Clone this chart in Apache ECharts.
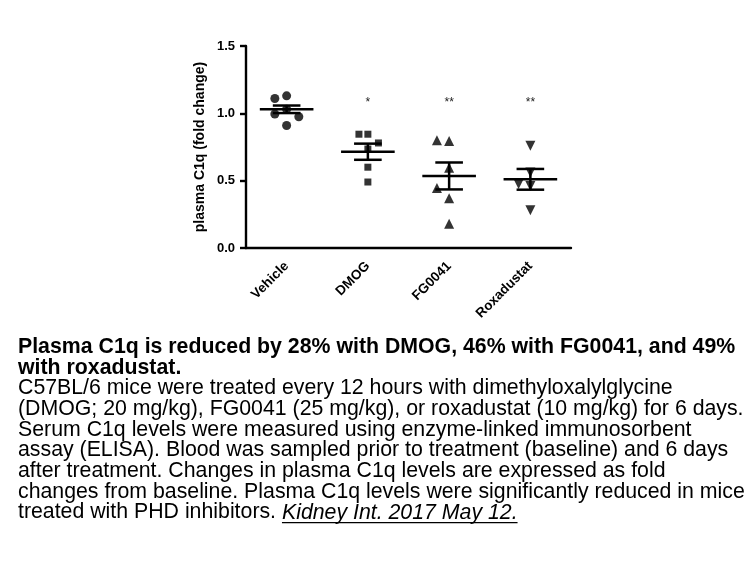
<!DOCTYPE html>
<html>
<head>
<meta charset="utf-8">
<script src="https://cdn.jsdelivr.net/npm/echarts@6/dist/echarts.min.js"></script>
<style>
html,body{margin:0;padding:0;background:#fff;}
#c{width:756px;height:567px;}
</style>
</head>
<body>
<div id="c"></div>
<script>
// ---- data ----
const categories = ['Vehicle', 'DMOG', 'FG0041', 'Roxadustat'];
// individual points: [x jitter offset (category units), value]
const vehiclePts = [[-0.145, 1.11], [0.0, 1.13], [-0.145, 0.995], [0.0, 1.03], [0.15, 0.975], [0.0, 0.91]];
const dmogPts = [[-0.11, 0.845], [0.0, 0.845], [0.13, 0.78], [0.0, 0.735], [0.0, 0.60], [0.0, 0.49]];
const fg0041Pts = [[-0.15, 0.80], [0.0, 0.795], [0.0, 0.595], [-0.15, 0.445], [0.0, 0.37], [0.0, 0.18]];
const roxPts = [[0.0, 0.76], [0.0, 0.56], [-0.145, 0.475], [0.0, 0.46], [0.0, 0.28]];
const means = [1.03, 0.715, 0.535, 0.51];
const sems = [0.028, 0.06, 0.10, 0.077];
const stars = ['', '*', '**', '**'];
const starLevel = 1.08;

const caption = [
  {t: 'Plasma C1q is reduced by 28% with DMOG, 46% with FG0041, and 49%', b: true},
  {t: 'with roxadustat.', b: true},
  {t: 'C57BL/6 mice were treated every 12 hours with dimethyloxalylglycine'},
  {t: '(DMOG; 20 mg/kg), FG0041 (25 mg/kg), or roxadustat (10 mg/kg) for 6 days.'},
  {t: 'Serum C1q levels were measured using enzyme-linked immunosorbent'},
  {t: 'assay (ELISA). Blood was sampled prior to treatment (baseline) and 6 days'},
  {t: 'after treatment. Changes in plasma C1q levels are expressed as fold'},
  {t: 'changes from baseline. Plasma C1q levels were significantly reduced in mice'},
  {t: 'treated with PHD inhibitors. ', cite: 'Kidney Int. 2017 May 12.'}
];

// ---- build ----
const groups = [vehiclePts, dmogPts, fg0041Pts, roxPts];
const symbols = ['circle', 'rect', 'triangle', 'triangle'];
const sizes = [9, 7, 10, 10];
const rotates = [0, 0, 0, 180];

const chart = echarts.init(document.getElementById('c'), null, {renderer: 'canvas'});
const F = '"Liberation Sans", Arial, sans-serif';

const series = groups.map((g, i) => ({
  type: 'scatter',
  xAxisIndex: 1,
  yAxisIndex: 0,
  symbol: symbols[i],
  symbolSize: sizes[i],
  symbolRotate: rotates[i],
  itemStyle: {color: '#000'},
  data: g.map(p => [i + p[0], p[1]]),
  z: 3
}));

series.push({
  type: 'custom',
  xAxisIndex: 1,
  yAxisIndex: 0,
  data: means.map((m, i) => [i, m, sems[i]]),
  z: 4,
  renderItem: function (params, api) {
    const x = api.value(0), m = api.value(1), s = api.value(2);
    const unit = api.size([1, 0])[0];
    const c = api.coord([x, m]);
    const top = api.coord([x, m + s]);
    const bot = api.coord([x, m - s]);
    const hw = unit * 0.33, cw = unit * 0.17;
    const st = {stroke: '#000', lineWidth: 2.5};
    return {
      type: 'group',
      children: [
        {type: 'line', shape: {x1: c[0] - hw, y1: c[1], x2: c[0] + hw, y2: c[1]}, style: st},
        {type: 'line', shape: {x1: top[0], y1: top[1], x2: bot[0], y2: bot[1]}, style: st},
        {type: 'line', shape: {x1: top[0] - cw, y1: top[1], x2: top[0] + cw, y2: top[1]}, style: st},
        {type: 'line', shape: {x1: bot[0] - cw, y1: bot[1], x2: bot[0] + cw, y2: bot[1]}, style: st}
      ]
    };
  }
});

series.push({
  type: 'custom',
  xAxisIndex: 1,
  yAxisIndex: 0,
  data: stars.map((s, i) => [i, starLevel]),
  renderItem: function (params, api) {
    const p = api.coord([api.value(0), api.value(1)]);
    return {
      type: 'text',
      style: {x: p[0], y: p[1], text: stars[params.dataIndex], fill: '#222',
        font: '12px ' + F, textAlign: 'center', textVerticalAlign: 'middle'}
    };
  }
});

// caption graphics
const graphics = [];
const capX = 18, capSize = 21.3, lineY0 = 347, lineH = 20.7;
const mctx = document.createElement('canvas').getContext('2d');
caption.forEach((ln, i) => {
  const y = lineY0 + i * lineH;
  const font = (ln.b ? 'bold ' : '') + capSize + 'px ' + F;
  graphics.push({
    type: 'text', x: capX, y: y,
    style: {text: ln.t, font: font, fill: '#000', textVerticalAlign: 'middle', textAlign: 'left'}
  });
  if (ln.cite) {
    mctx.font = font;
    const w0 = mctx.measureText(ln.t).width;
    const cfont = 'italic ' + capSize + 'px ' + F;
    mctx.font = cfont;
    const w1 = mctx.measureText(ln.cite).width;
    const cx = capX + w0;
    graphics.push({
      type: 'text', x: cx, y: y,
      style: {text: ln.cite, font: cfont, fill: '#000', textVerticalAlign: 'middle', textAlign: 'left'}
    });
    graphics.push({
      type: 'line', shape: {x1: cx, y1: y + 10, x2: cx + w1, y2: y + 10},
      style: {stroke: '#000', lineWidth: 1.2}
    });
  }
});

chart.setOption({
  animation: false,
  backgroundColor: '#fff',
  grid: {left: 246, right: 185, top: 46, bottom: 319, containLabel: false},
  xAxis: [
    {
      type: 'category',
      data: categories,
      boundaryGap: true,
      axisLine: {onZero: false, lineStyle: {color: '#000', width: 2.4}},
      axisTick: {alignWithLabel: true, length: 6, lineStyle: {color: '#000', width: 2.4}},
      axisLabel: {rotate: 45, color: '#000', fontWeight: 'bold', fontSize: 13.5, fontFamily: F, margin: 16, interval: 0},
      splitLine: {show: false}
    },
    {
      type: 'value', min: -0.5, max: 3.5, show: false, splitLine: {show: false}
    }
  ],
  yAxis: [{
    type: 'value',
    min: 0, max: 1.5, interval: 0.5,
    name: 'plasma C1q (fold change)',
    nameLocation: 'middle',
    nameGap: 39,
    nameRotate: 90,
    nameTextStyle: {color: '#000', fontWeight: 'bold', fontSize: 14, fontFamily: F},
    axisLine: {show: true, onZero: false, lineStyle: {color: '#000', width: 2.4}},
    axisTick: {show: true, length: 6, lineStyle: {color: '#000', width: 2.4}},
    axisLabel: {color: '#000', fontWeight: 'bold', fontSize: 13, fontFamily: F, margin: 11,
      formatter: v => v.toFixed(1)},
    splitLine: {show: false}
  }],
  graphic: graphics,
  series: series
});
</script>
</body>
</html>
